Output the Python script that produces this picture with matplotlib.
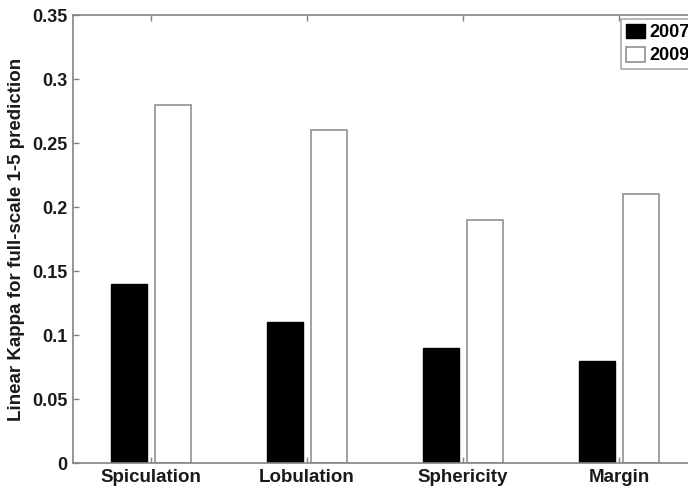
import matplotlib
matplotlib.use('Agg')
import matplotlib.pyplot as plt
import numpy as np

# Data
categories = ['Spiculation', 'Lobulation', 'Sphericity', 'Margin']
kappa_2007 = [0.14, 0.11, 0.09, 0.08]
kappa_2009 = [0.28, 0.26, 0.19, 0.21]
series_labels = ['2007', '2009']
yticks = [0, 0.05, 0.1, 0.15, 0.2, 0.25, 0.3, 0.35]
ytick_labels = ['0', '0.05', '0.1', '0.15', '0.2', '0.25', '0.3', '0.35']

plt.rcParams['font.family'] = ['Liberation Sans', 'DejaVu Sans']
plt.rcParams['font.weight'] = 'bold'

W, H = 688, 490
fig = plt.figure(figsize=(W / 100, H / 100), dpi=100)
# axes runs past the right edge of the picture, like the cropped original
ax = fig.add_axes([73 / W, 27 / H, 624 / W, 448 / H])

x = np.arange(1, len(categories) + 1)
offset = 0.141
width = 0.231
spine_col = '#8a8282'

ax.bar(x - offset, kappa_2007, width, color='black', edgecolor='black',
       linewidth=1, label=series_labels[0], zorder=2)
ax.bar(x + offset, kappa_2009, width, color='white', edgecolor='#a09696',
       linewidth=1.3, label=series_labels[1], zorder=2)

ax.set_xlim(0.5, 4.5)
ax.set_ylim(0, 0.35)
ax.set_xticks(x)
ax.set_xticklabels(categories, fontsize=13.5, fontweight='bold')
ax.set_yticks(yticks)
ax.set_yticklabels(ytick_labels, fontsize=13, fontweight='bold')
ax.tick_params(direction='in', length=4.5, color=spine_col, width=1,
               top=True, right=True, labelcolor='#1a1a1a')
ax.tick_params(axis='x', pad=4)
ax.tick_params(axis='y', pad=4)
for s in ax.spines.values():
    s.set_color(spine_col)
    s.set_linewidth(1.2)

ax.set_ylabel('Linear Kappa for full-scale 1-5 prediction', fontsize=13.5,
              fontweight='bold', color='#1a1a1a', labelpad=5)

leg = ax.legend(loc='upper left', bbox_to_anchor=(621 / W, 1 - 19 / H),
                bbox_transform=fig.transFigure, borderaxespad=0,
                fontsize=13, frameon=True, fancybox=False,
                handlelength=1.1, handleheight=0.9, handletextpad=0.2,
                labelspacing=0.3, borderpad=0.25)
leg.get_frame().set_edgecolor('#9a9090')
leg.get_frame().set_linewidth(1.2)
for t in leg.get_texts():
    t.set_fontweight('bold')

fig.savefig('out.png', dpi=100)
